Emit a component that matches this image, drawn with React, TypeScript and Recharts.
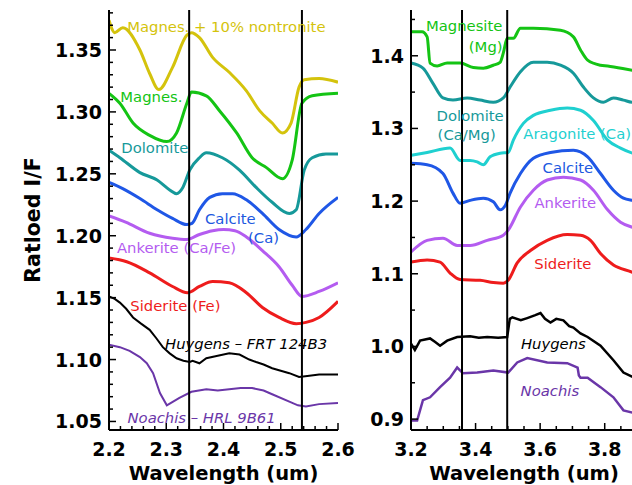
import React from 'react';
import { LineChart, Line, XAxis, YAxis, ReferenceLine, ReferenceDot } from 'recharts';

// ---------- LEFT PANEL (2.2 – 2.6 um) ----------
const L_MAG_NONT: number[][] = [[2.2,1.374],[2.21,1.364],[2.224,1.368],[2.254,1.35],[2.271,1.331],[2.287,1.318],[2.311,1.336],[2.336,1.362],[2.344,1.364],[2.358,1.36],[2.381,1.344],[2.41,1.332],[2.44,1.317],[2.463,1.301],[2.485,1.291],[2.503,1.283],[2.518,1.291],[2.532,1.32],[2.541,1.326],[2.567,1.327],[2.6,1.324]];
const L_MAG: number[][] = [[2.2,1.315],[2.219,1.307],[2.242,1.291],[2.271,1.281],[2.301,1.276],[2.318,1.283],[2.336,1.307],[2.344,1.316],[2.37,1.313],[2.393,1.301],[2.423,1.283],[2.45,1.263],[2.475,1.255],[2.503,1.246],[2.52,1.261],[2.537,1.307],[2.555,1.313],[2.6,1.315]];
const L_DOL: number[][] = [[2.2,1.269],[2.219,1.263],[2.254,1.251],[2.284,1.245],[2.306,1.237],[2.318,1.234],[2.329,1.239],[2.341,1.253],[2.358,1.263],[2.37,1.267],[2.398,1.263],[2.428,1.253],[2.457,1.239],[2.485,1.227],[2.515,1.218],[2.527,1.221],[2.541,1.253],[2.555,1.263],[2.579,1.266],[2.6,1.266]];
const L_CAL: number[][] = [[2.2,1.243],[2.224,1.238],[2.254,1.23],[2.284,1.221],[2.311,1.214],[2.336,1.209],[2.345,1.21],[2.358,1.221],[2.376,1.231],[2.398,1.234],[2.416,1.234],[2.44,1.229],[2.468,1.218],[2.497,1.205],[2.527,1.199],[2.544,1.205],[2.567,1.218],[2.6,1.231]];
const L_ANK: number[][] = [[2.2,1.216],[2.229,1.211],[2.271,1.202],[2.311,1.198],[2.336,1.197],[2.358,1.201],[2.381,1.204],[2.4,1.205],[2.42,1.204],[2.44,1.199],[2.468,1.188],[2.497,1.175],[2.52,1.16],[2.537,1.151],[2.567,1.155],[2.6,1.162]];
const L_SID: number[][] = [[2.2,1.182],[2.231,1.179],[2.271,1.17],[2.311,1.159],[2.337,1.154],[2.358,1.159],[2.381,1.163],[2.41,1.162],[2.44,1.154],[2.468,1.142],[2.497,1.134],[2.527,1.129],[2.544,1.13],[2.567,1.134],[2.6,1.147]];
const L_HUY: number[][] = [[2.2,1.151],[2.21,1.149],[2.219,1.146],[2.23,1.141],[2.242,1.134],[2.256,1.129],[2.271,1.124],[2.283,1.117],[2.294,1.11],[2.306,1.105],[2.318,1.101],[2.33,1.099],[2.341,1.098],[2.346,1.099],[2.358,1.097],[2.37,1.101],[2.39,1.103],[2.41,1.105],[2.428,1.104],[2.445,1.1],[2.457,1.098],[2.47,1.096],[2.485,1.093],[2.5,1.091],[2.515,1.089],[2.532,1.086],[2.55,1.087],[2.567,1.088],[2.6,1.088]];
const L_NOA: number[][] = [[2.2,1.112],[2.219,1.11],[2.236,1.107],[2.254,1.102],[2.266,1.097],[2.277,1.089],[2.289,1.073],[2.301,1.063],[2.312,1.066],[2.323,1.069],[2.344,1.074],[2.37,1.076],[2.39,1.075],[2.41,1.076],[2.43,1.077],[2.45,1.077],[2.47,1.075],[2.485,1.072],[2.515,1.066],[2.53,1.063],[2.544,1.062],[2.567,1.064],[2.6,1.065]];

// ---------- RIGHT PANEL (3.2 – 3.9 um) ----------
const R_MAG: number[][] = [[3.2,1.433],[3.234,1.433],[3.25,1.426],[3.259,1.39],[3.281,1.386],[3.312,1.39],[3.352,1.39],[3.393,1.384],[3.424,1.383],[3.455,1.387],[3.476,1.391],[3.486,1.404],[3.498,1.424],[3.517,1.424],[3.539,1.438],[3.579,1.438],[3.663,1.435],[3.703,1.426],[3.725,1.408],[3.747,1.394],[3.787,1.387],[3.809,1.386],[3.886,1.38],[3.9,1.379]];
const R_DOL: number[][] = [[3.2,1.39],[3.237,1.383],[3.268,1.362],[3.299,1.342],[3.33,1.339],[3.374,1.342],[3.414,1.339],[3.455,1.336],[3.486,1.342],[3.507,1.357],[3.539,1.378],[3.579,1.391],[3.622,1.391],[3.663,1.387],[3.703,1.376],[3.734,1.357],[3.765,1.342],[3.796,1.336],[3.827,1.342],[3.858,1.339],[3.886,1.336],[3.9,1.336]];
const R_ARA: number[][] = [[3.2,1.263],[3.25,1.267],[3.321,1.273],[3.352,1.256],[3.383,1.256],[3.405,1.254],[3.424,1.25],[3.445,1.261],[3.476,1.266],[3.501,1.267],[3.517,1.284],[3.548,1.307],[3.579,1.318],[3.632,1.325],[3.684,1.328],[3.725,1.325],[3.765,1.311],[3.809,1.284],[3.849,1.273],[3.886,1.266],[3.9,1.264]];
const R_CAL: number[][] = [[3.2,1.252],[3.25,1.25],[3.299,1.238],[3.33,1.211],[3.352,1.197],[3.383,1.201],[3.424,1.204],[3.455,1.199],[3.476,1.188],[3.492,1.194],[3.507,1.211],[3.539,1.238],[3.579,1.259],[3.632,1.267],[3.703,1.27],[3.747,1.261],[3.787,1.238],[3.827,1.215],[3.858,1.204],[3.886,1.201],[3.9,1.2]];
const R_ANK: number[][] = [[3.2,1.13],[3.25,1.146],[3.299,1.149],[3.343,1.139],[3.383,1.139],[3.436,1.146],[3.486,1.153],[3.501,1.16],[3.539,1.192],[3.579,1.215],[3.622,1.229],[3.672,1.233],[3.725,1.229],[3.765,1.215],[3.809,1.188],[3.849,1.171],[3.886,1.164],[3.9,1.162]];
const R_SID: number[][] = [[3.2,1.116],[3.25,1.119],[3.29,1.116],[3.321,1.101],[3.352,1.092],[3.414,1.091],[3.455,1.088],[3.486,1.087],[3.501,1.091],[3.529,1.115],[3.57,1.132],[3.622,1.146],[3.684,1.154],[3.725,1.153],[3.756,1.146],[3.787,1.128],[3.827,1.112],[3.886,1.102],[3.9,1.099]];
const R_HUY: number[][] = [[3.2,1.004],[3.212,0.995],[3.228,1.008],[3.259,1.011],[3.275,1.006],[3.29,1.001],[3.312,1.008],[3.343,1.013],[3.383,1.014],[3.41,1.012],[3.436,1.013],[3.47,1.012],[3.498,1.013],[3.506,1.038],[3.514,1.04],[3.54,1.036],[3.56,1.039],[3.585,1.043],[3.601,1.046],[3.615,1.038],[3.632,1.033],[3.65,1.038],[3.672,1.036],[3.69,1.028],[3.703,1.026],[3.725,1.018],[3.747,1.013],[3.787,1.001],[3.827,0.981],[3.858,0.964],[3.886,0.958],[3.9,0.957]];
const R_NOA: number[][] = [[3.2,0.898],[3.219,0.898],[3.237,0.926],[3.259,0.93],[3.29,0.944],[3.321,0.957],[3.343,0.971],[3.361,0.963],[3.405,0.964],[3.455,0.967],[3.501,0.964],[3.529,0.978],[3.56,0.984],[3.622,0.978],[3.684,0.977],[3.716,0.971],[3.72,0.96],[3.725,0.957],[3.747,0.957],[3.787,0.944],[3.827,0.93],[3.858,0.912],[3.886,0.909],[3.9,0.907]];

// vertical marker lines
const L_MARKERS = [2.34, 2.537];
const R_MARKERS = [3.358, 3.498];

// tick labels
const L_X_MAJOR = [2.2, 2.3, 2.4, 2.5, 2.6];
const L_Y_MAJOR = [1.05, 1.1, 1.15, 1.2, 1.25, 1.3, 1.35];
const R_X_MAJOR = [3.2, 3.4, 3.6, 3.8];
const R_Y_MAJOR = [0.9, 1.0, 1.1, 1.2, 1.3, 1.4];

// curve labels: [text, w, v, color, italic, anchor]
const L_LABELS: any[][] = [
  ['Magnes. + 10% nontronite', 2.405, 1.3686, '#d4c30c', false, 'middle'],
  ['Magnes.', 2.274, 1.3124, '#14c414', false, 'middle'],
  ['Dolomite', 2.28, 1.2712, '#16999a', false, 'middle'],
  ['Calcite', 2.412, 1.2139, '#2058e0', false, 'middle'],
  ['(Ca)', 2.47, 1.1981, '#2058e0', false, 'middle'],
  ['Ankerite (Ca/Fe)', 2.318, 1.1905, '#b45cf0', false, 'middle'],
  ['Siderite (Fe)', 2.316, 1.1432, '#ee1c1c', false, 'middle'],
  ['Huygens – FRT 124B3', 2.4395, 1.1129, '#000000', true, 'middle'],
  ['Noachis – HRL 9B61', 2.3617, 1.0531, '#6a36a8', true, 'middle'],
];
const R_LABELS: any[][] = [
  ['Magnesite', 3.3646, 1.441, '#14c414', false, 'middle'],
  ['(Mg)', 3.4314, 1.412, '#14c414', false, 'middle'],
  ['Dolomite', 3.3832, 1.3177, '#16999a', false, 'middle'],
  ['(Ca/Mg)', 3.3724, 1.2908, '#16999a', false, 'middle'],
  ['Aragonite (Ca)', 3.5478, 1.2922, '#1fd0d0', false, 'start'],
  ['Calcite', 3.686, 1.2467, '#2058e0', false, 'middle'],
  ['Ankerite', 3.678, 1.1972, '#b45cf0', false, 'middle'],
  ['Siderite', 3.6705, 1.1145, '#ee1c1c', false, 'middle'],
  ['Huygens', 3.641, 1.0036, '#000000', true, 'middle'],
  ['Noachis', 3.63, 0.9389, '#6a36a8', true, 'middle'],
];

const FONT = '"DejaVu Sans", "Liberation Sans", sans-serif';

const toRows = (arr: number[][]) => arr.map(([w, v]) => ({ w, v }));
const range = (a: number, b: number, s: number) => {
  const out: number[] = [];
  for (let i = 0; a + i * s <= b + 1e-9; i++) out.push(Math.round((a + i * s) * 1000) / 1000);
  return out;
};
const isMajor = (majors: number[], v: number) => majors.some((m) => Math.abs(m - v) < 1e-6);

const tickFactory = (side: 'bottom' | 'top' | 'left' | 'right', majors: number[], fmt: (v: number) => string, major = 7, minor = 4) =>
  (props: any) => {
    const { x, y, payload } = props;
    const v = payload.value;
    const mj = isMajor(majors, v);
    const len = mj ? major : minor;
    let line;
    if (side === 'bottom') line = <line x1={x} x2={x} y1={y} y2={y - len} stroke="#000" strokeWidth={1.5} />;
    else if (side === 'top') line = <line x1={x} x2={x} y1={y} y2={y + len} stroke="#000" strokeWidth={1.5} />;
    else if (side === 'left') line = <line x1={x} x2={x + len} y1={y} y2={y} stroke="#000" strokeWidth={1.5} />;
    else line = <line x1={x} x2={x - len} y1={y} y2={y} stroke="#000" strokeWidth={1.5} />;
    let label = null;
    if (mj && side === 'bottom')
      label = <text x={x} y={y + 26} textAnchor="middle" fontFamily={FONT} fontWeight="bold" fontSize={19} fill="#000">{fmt(v)}</text>;
    if (mj && side === 'left')
      label = <text x={x - 7} y={y + 7} textAnchor="end" fontFamily={FONT} fontWeight="bold" fontSize={19} fill="#000">{fmt(v)}</text>;
    return <g>{line}{label}</g>;
  };

const renderCurveLabel = (l: any[], i: number) => {
  const [text, w, v, color, italic, anchor] = l;
  return (
    <ReferenceDot
      key={'lab' + i}
      x={w}
      y={v}
      r={0}
      fill="none"
      stroke="none"
      ifOverflow="visible"
      label={(p: any) => (
        <text
          x={p.viewBox.x + (p.viewBox.width || 0) / 2}
          y={p.viewBox.y + (p.viewBox.height || 0) / 2}
          dy="0.36em"
          textAnchor={anchor}
          fontFamily={FONT}
          fontSize={14.8}
          fontStyle={italic ? 'italic' : 'normal'}
          fill={color}
        >
          {text}
        </text>
      )}
    />
  );
};

const titleLabel = (p: any) => {
  const vb = p.viewBox;
  return (
    <text x={vb.x + vb.width / 2} y={vb.y + 50} textAnchor="middle" fontFamily={FONT} fontWeight="bold" fontSize={19.5} fill="#000">
      Wavelength (um)
    </text>
  );
};

const yTitle = (p: any) => {
  const vb = p.viewBox;
  const cx = vb.x + 40;
  const cy = vb.y + vb.height / 2;
  return (
    <text x={cx} y={cy} transform={`rotate(-90 ${cx} ${cy})`} textAnchor="middle" fontFamily={FONT} fontWeight="bold" fontSize={20.5} fill="#000">
      Ratloed I/F
    </text>
  );
};

const AXIS_LINE = { stroke: '#000', strokeWidth: 2 };

function LeftPanel() {
  const xd: [number, number] = [2.2, 2.6];
  const yd: [number, number] = [1.0431, 1.3823];
  const xTicks = range(2.2, 2.6, 0.02);
  const yTicks = range(1.05, 1.38, 0.01);
  const f2 = (v: number) => v.toFixed(2);
  const f1 = (v: number) => v.toFixed(1);
  const series: [number[][], string, number, string][] = [
    [L_MAG_NONT, '#d4c30c', 3, 'monotone'],
    [L_MAG, '#14c414', 3, 'monotone'],
    [L_DOL, '#16999a', 3, 'monotone'],
    [L_CAL, '#1f57e6', 3, 'monotone'],
    [L_ANK, '#b45cf0', 3, 'monotone'],
    [L_SID, '#ee1c1c', 3, 'monotone'],
    [L_HUY, '#000000', 2, 'linear'],
    [L_NOA, '#6a36a8', 2, 'linear'],
  ];
  return (
    <LineChart width={362} height={485} margin={{ top: 10, right: 24, bottom: 0, left: 0 }}>
      <XAxis xAxisId={0} type="number" dataKey="w" domain={xd} allowDataOverflow ticks={xTicks} interval={0}
        height={55} tickSize={0} tickMargin={0} tickLine={false} axisLine={AXIS_LINE}
        tick={tickFactory('bottom', L_X_MAJOR, f1)} label={titleLabel} />
      <XAxis xAxisId="top" orientation="top" type="number" domain={xd} allowDataOverflow ticks={xTicks} interval={0}
        height={0} tickSize={0} tickMargin={0} tickLine={false} axisLine={AXIS_LINE}
        tick={tickFactory('top', L_X_MAJOR, f1)} />
      <YAxis yAxisId={0} type="number" domain={yd} allowDataOverflow ticks={yTicks} interval={0}
        width={109} tickSize={0} tickMargin={0} tickLine={false} axisLine={AXIS_LINE}
        tick={tickFactory('left', L_Y_MAJOR, f2)} label={yTitle} />
      <YAxis yAxisId="right" orientation="right" type="number" domain={yd} allowDataOverflow ticks={yTicks} interval={0}
        width={0} tickSize={0} tickMargin={0} tickLine={false} axisLine={AXIS_LINE}
        tick={tickFactory('right', L_Y_MAJOR, f2)} />
      {series.map(([d, c, sw, t], i) => (
        <Line key={'s' + i} data={toRows(d)} dataKey="v" type={t as any} stroke={c} strokeWidth={sw}
          dot={false} activeDot={false} isAnimationActive={false} />
      ))}
      {L_MARKERS.map((m) => (
        <ReferenceLine key={'m' + m} x={m} stroke="#000" strokeWidth={2} />
      ))}
      {L_LABELS.map(renderCurveLabel)}
    </LineChart>
  );
}

function RightPanel() {
  const xd: [number, number] = [3.2, 3.9];
  const yd: [number, number] = [0.885, 1.463];
  const xTicks = range(3.2, 3.9, 0.05);
  const yTicks = range(0.9, 1.45, 0.05);
  const f1 = (v: number) => v.toFixed(1);
  const series: [number[][], string, number, string][] = [
    [R_MAG, '#14c414', 3, 'monotone'],
    [R_DOL, '#16999a', 3, 'monotone'],
    [R_ARA, '#1fd0d0', 3, 'monotone'],
    [R_CAL, '#1f57e6', 3, 'monotone'],
    [R_ANK, '#b45cf0', 3, 'monotone'],
    [R_SID, '#ee1c1c', 3, 'monotone'],
    [R_HUY, '#000000', 2.5, 'linear'],
    [R_NOA, '#6a36a8', 2.5, 'linear'],
  ];
  return (
    <LineChart width={290} height={485} margin={{ top: 10, right: 13, bottom: 0, left: 0 }}>
      <XAxis xAxisId={0} type="number" dataKey="w" domain={xd} allowDataOverflow ticks={xTicks} interval={0}
        height={55} tickSize={0} tickMargin={0} tickLine={false} axisLine={AXIS_LINE}
        tick={tickFactory('bottom', R_X_MAJOR, f1)} label={titleLabel} />
      <XAxis xAxisId="top" orientation="top" type="number" domain={xd} allowDataOverflow ticks={xTicks} interval={0}
        height={0} tickSize={0} tickMargin={0} tickLine={false} axisLine={AXIS_LINE}
        tick={tickFactory('top', R_X_MAJOR, f1)} />
      <YAxis yAxisId={0} type="number" domain={yd} allowDataOverflow ticks={yTicks} interval={0}
        width={51} tickSize={0} tickMargin={0} tickLine={false} axisLine={AXIS_LINE}
        tick={tickFactory('left', R_Y_MAJOR, f1)} />
      <YAxis yAxisId="right" orientation="right" type="number" domain={yd} allowDataOverflow ticks={yTicks} interval={0}
        width={0} tickSize={0} tickMargin={0} tickLine={false} axisLine={AXIS_LINE}
        tick={tickFactory('right', R_Y_MAJOR, f1)} />
      {series.map(([d, c, sw, t], i) => (
        <Line key={'s' + i} data={toRows(d)} dataKey="v" type={t as any} stroke={c} strokeWidth={sw}
          dot={false} activeDot={false} isAnimationActive={false} />
      ))}
      {R_MARKERS.map((m) => (
        <ReferenceLine key={'m' + m} x={m} stroke="#000" strokeWidth={2} />
      ))}
      {R_LABELS.map(renderCurveLabel)}
    </LineChart>
  );
}

export default function App() {
  return (
    <div style={{ position: 'fixed', left: 0, top: 0, width: 632, height: 485, overflow: 'hidden', background: '#fff' }}>
      <div style={{ position: 'absolute', left: 0, top: 0 }}>
        <LeftPanel />
      </div>
      <div style={{ position: 'absolute', left: 360, top: 0 }}>
        <RightPanel />
      </div>
    </div>
  );
}
